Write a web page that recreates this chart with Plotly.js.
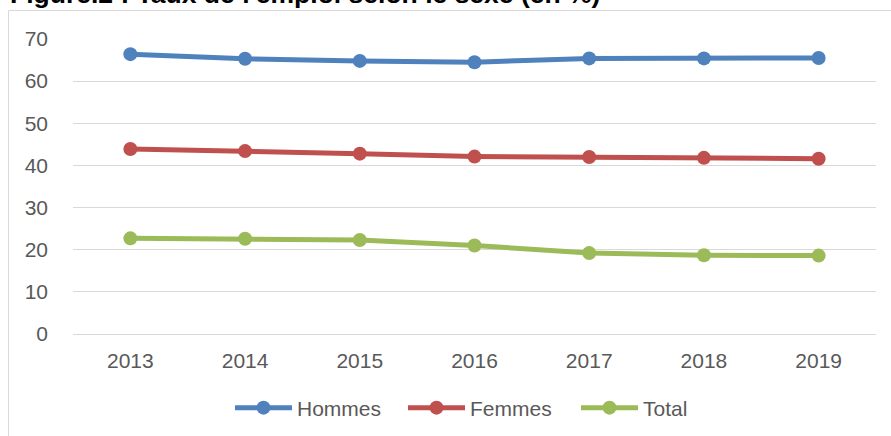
<!DOCTYPE html>
<html>
<head>
<meta charset="utf-8">
<script src="https://cdn.plot.ly/plotly-3.0.1.min.js"></script>
<style>
html,body{margin:0;padding:0;background:#fff;}
#chart{width:891px;height:436px;}
</style>
</head>
<body>
<div id="chart"></div>
<script>
const years = ['2013','2014','2015','2016','2017','2018','2019'];
const hommes = [66.4, 65.3, 64.8, 64.5, 65.4, 65.4, 65.5];
const femmes = [43.9, 43.4, 42.8, 42.1, 42.0, 41.8, 41.6];
const total  = [22.7, 22.6, 22.3, 21.0, 19.2, 18.7, 18.6];
const seriesNames = ['Hommes', 'Femmes', 'Total'];
const titleText = "Figure.2 : Taux de l'emploi selon le sexe (en %)";

const colors = ['#4f81bd', '#c0504d', '#9bbb59'];
const values = [hommes, femmes, total];
const FONT = '"Liberation Sans", Arial, sans-serif';

const traces = values.map((v, i) => ({
  type: 'scatter',
  mode: 'lines+markers',
  name: seriesNames[i],
  x: years,
  y: v,
  line: {color: colors[i], width: 5},
  marker: {color: colors[i], size: 14},
  cliponaxis: false
}));

const W = 891, H = 436;
const L = 73, R = 15, T = 39, B = 102;
const pw = W - L - R, ph = H - T - B;
const px = x => (x - L) / pw;
const py = y => (H - B - y) / ph;

const layout = {
  width: W, height: H,
  margin: {l: L, r: R, t: T, b: B, autoexpand: false},
  paper_bgcolor: '#ffffff',
  plot_bgcolor: '#ffffff',
  font: {family: FONT, size: 21, color: '#595959'},
  showlegend: true,
  legend: {
    orientation: 'h',
    xref: 'container', x: 230 / W, xanchor: 'left',
    yref: 'container', y: 1 - 408 / H, yanchor: 'middle',
    font: {family: FONT, size: 21, color: '#595959'},
    itemwidth: 57,
    entrywidth: 101, entrywidthmode: 'pixels',
    tracegroupgap: 0
  },
  xaxis: {
    type: 'category',
    range: [-0.5, 6.5],
    showgrid: false, zeroline: false, showline: false,
    ticks: '',
    ticklabelstandoff: 12,
    automargin: false,
    tickfont: {family: FONT, size: 21, color: '#595959'},
    fixedrange: true
  },
  yaxis: {
    range: [0, 70],
    dtick: 10, tick0: 0,
    showgrid: true, gridcolor: '#d9d9d9', gridwidth: 1,
    zeroline: true, zerolinecolor: '#d9d9d9', zerolinewidth: 1,
    showline: false, ticks: '',
    ticklabelstandoff: 24,
    automargin: false,
    tickfont: {family: FONT, size: 21, color: '#595959'},
    fixedrange: true
  },
  shapes: [{
    type: 'rect', xref: 'paper', yref: 'paper',
    x0: px(8.5), x1: px(905), y0: py(10.5), y1: py(460),
    line: {color: '#d9d9d9', width: 1},
    fillcolor: 'rgba(0,0,0,0)', layer: 'below'
  }],
  annotations: [{
    text: '<b>' + titleText + '</b>',
    xref: 'paper', yref: 'paper',
    x: px(8), xanchor: 'left',
    y: py(-6.5), yanchor: 'middle',
    showarrow: false,
    font: {family: FONT, size: 26.5, color: '#000000'}
  }]
};

Plotly.newPlot('chart', traces, layout, {displayModeBar: false, staticPlot: true});
</script>
</body>
</html>
